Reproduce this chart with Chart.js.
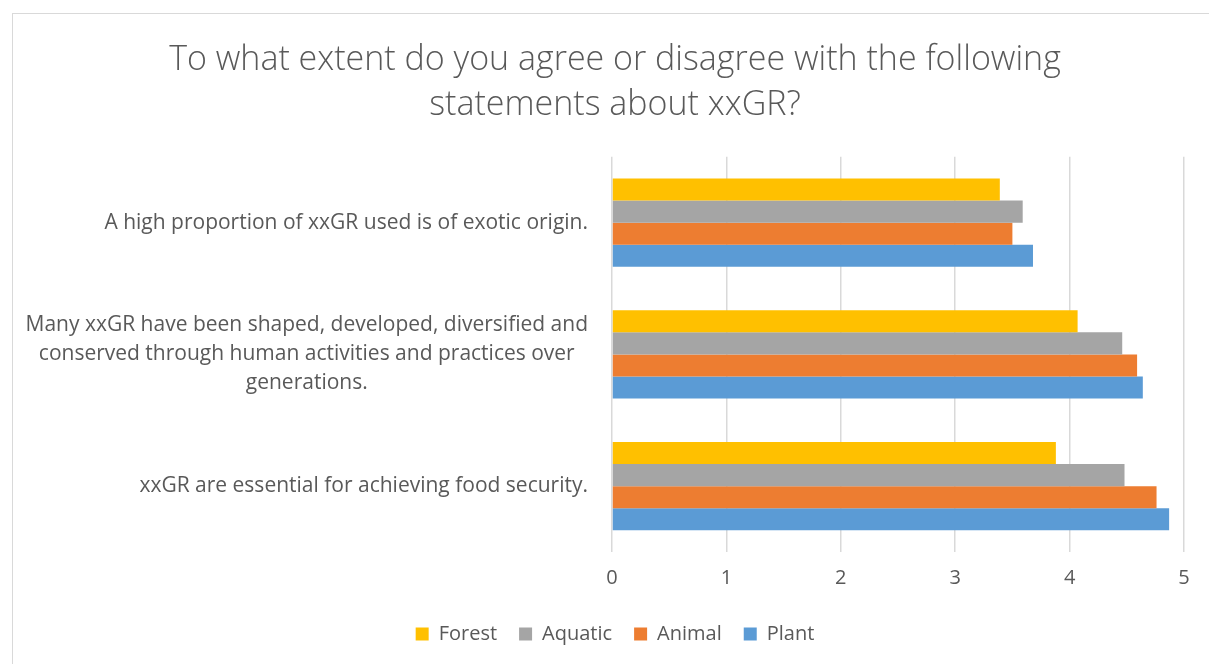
<!DOCTYPE html>
<html>
<head>
<meta charset="utf-8">
<script src="https://cdn.jsdelivr.net/npm/chart.js@4"></script>
<style>
  html, body { margin: 0; padding: 0; background: #fff; overflow: hidden; }
  #wrap { position: relative; width: 1209px; height: 664px; }
  #frame { position: absolute; left: 12px; top: 13px; width: 1300px; height: 700px; border: 1px solid #d9d9d9; }
  canvas { position: absolute; left: 0; top: 0; }
</style>
</head>
<body>
<div id="wrap">
  <div id="frame"></div>
  <canvas id="chart" width="1209" height="664"></canvas>
</div>
<script>
const categories = [
    ['A high proportion of xxGR used is of exotic origin.'],
    ['Many xxGR have been shaped, developed, diversified and', 'conserved through human activities and practices over', 'generations.'],
    ['xxGR are essential for achieving food security.']
];
const forest = [3.39, 4.07, 3.88];
const aquatic = [3.59, 4.46, 4.48];
const animal = [3.50, 4.59, 4.76];
const plant = [3.68, 4.64, 4.87];
const xTicks = [0, 1, 2, 3, 4, 5];

const textColor = '#595959';
const fontFamily = "'Open Sans', 'Noto Sans', sans-serif";

// Excel-style category labels: each block right aligned, lines centred inside it
const categoryLabels = {
    id: 'categoryLabels',
    afterDraw(chart) {
        const ctx = chart.ctx;
        const yScale = chart.scales.y;
        const lineH = 29;
        ctx.save();
        ctx.font = '21px ' + fontFamily;
        ctx.fillStyle = textColor;
        ctx.textAlign = 'center';
        ctx.textBaseline = 'middle';
        chart.data.labels.forEach((lines, i) => {
            const y = yScale.getPixelForValue(i);
            const blockW = Math.max(...lines.map(l => ctx.measureText(l).width));
            const cx = chart.chartArea.left - 24 - blockW / 2;
            lines.forEach((line, j) => {
                ctx.fillText(line, cx, y + (j - (lines.length - 1) / 2) * lineH);
            });
        });
        ctx.restore();
    }
};

new Chart(document.getElementById('chart'), {
    type: 'bar',
    data: {
        labels: categories,
        datasets: [
            { label: 'Forest', data: forest, backgroundColor: '#FFC000' },
            { label: 'Aquatic', data: aquatic, backgroundColor: '#A5A5A5' },
            { label: 'Animal', data: animal, backgroundColor: '#ED7D31' },
            { label: 'Plant', data: plant, backgroundColor: '#5B9BD5' }
        ]
    },
    options: {
        indexAxis: 'y',
        responsive: false,
        animation: false,
        datasets: {
            bar: { categoryPercentage: 0.67, barPercentage: 1.0 }
        },
        layout: {
            padding: { top: 10, left: 46, right: 25, bottom: 10 }
        },
        scales: {
            x: {
                min: 0,
                max: 5,
                afterBuildTicks: scale => { scale.ticks = xTicks.map(v => ({ value: v })); },
                afterFit: scale => { scale.height = 50; },
                grid: { color: '#d9d9d9', lineWidth: 1.5, drawTicks: false },
                border: { display: false },
                ticks: {
                    padding: 14,
                    color: textColor,
                    font: { family: fontFamily, size: 20 }
                }
            },
            y: {
                afterFit: scale => { scale.width = 566; },
                grid: { display: false },
                border: { display: false },
                ticks: { display: false }
            }
        },
        plugins: {
            title: {
                display: true,
                text: ['To what extent do you agree or disagree with the following', 'statements about xxGR?'],
                color: textColor,
                font: { family: fontFamily, size: 34, weight: '300', lineHeight: 1.32 },
                padding: { top: 28, bottom: 29 }
            },
            legend: {
                position: 'bottom',
                labels: {
                    boxWidth: 13,
                    boxHeight: 13,
                    padding: 22,
                    color: textColor,
                    font: { family: fontFamily, size: 20 }
                }
            },
            tooltip: { enabled: false }
        }
    },
    plugins: [categoryLabels]
});
</script>
</body>
</html>
